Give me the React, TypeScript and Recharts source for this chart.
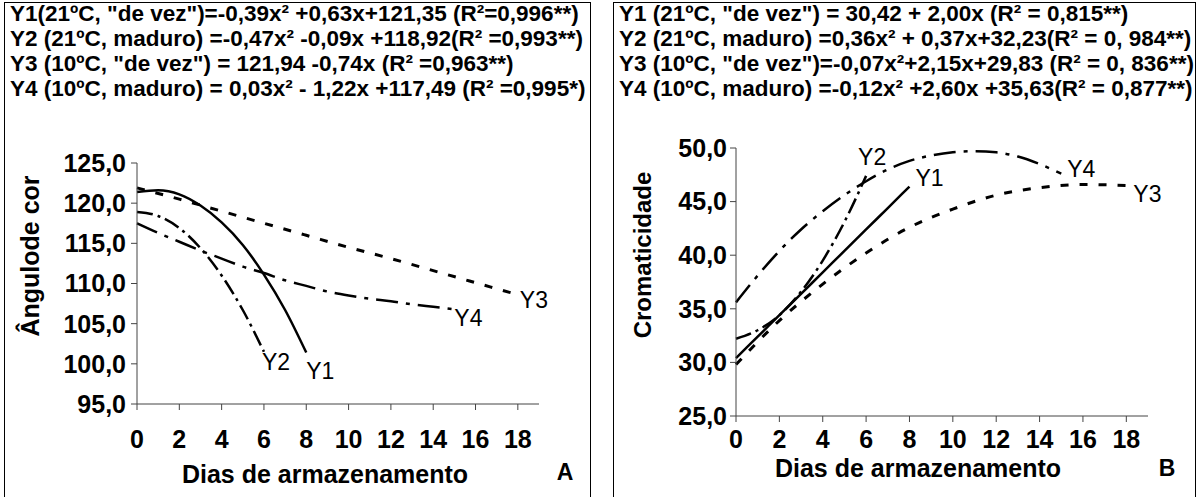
import { Line, LineChart, XAxis, YAxis } from "recharts";

const FONT = 'Arial, "Liberation Sans", Helvetica, sans-serif';

// x values (dias de armazenamento)
const daysTo6 = [0, 1, 2, 3, 4, 5, 6];
const daysTo8 = [0, 1, 2, 3, 4, 5, 6, 7, 8];
const daysTo15 = [0, 1, 2, 3, 4, 5, 6, 7, 8, 9, 10, 11, 12, 13, 14, 15];
const daysTo18 = [0, 2, 4, 6, 8, 10, 12, 14, 16, 18];
const dayTicks = [0, 2, 4, 6, 8, 10, 12, 14, 16, 18];

// A: ângulo de cor
const hueY1 = [121.4, 121.6, 121.1, 119.7, 117.6, 114.8, 111.1, 106.7, 101.4];
const hueY2 = [118.9, 118.4, 116.9, 114.4, 111.0, 106.7, 101.5];
const hueY3 = [121.9, 120.5, 119.0, 117.5, 116.0, 114.5, 113.1, 111.6, 110.1, 108.6];
const hueY4 = [117.5, 116.3, 115.2, 114.1, 113.1, 112.1, 111.3, 110.4, 109.7, 109.0, 108.5, 108.1, 107.8, 107.4, 107.1, 106.8];
const hueTicks = [95, 100, 105, 110, 115, 120, 125];

// B: cromaticidade
const chromaY1 = [30.4, 32.4, 34.4, 36.4, 38.4, 40.4, 42.4, 44.4, 46.4];
const chromaY2 = [32.2, 33.0, 34.4, 36.6, 39.5, 43.1, 47.4];
const chromaY3 = [29.8, 33.9, 37.3, 40.2, 42.6, 44.3, 45.6, 46.3, 46.6, 46.5];
const chromaY4 = [35.6, 38.1, 40.4, 42.4, 44.1, 45.6, 46.9, 48.0, 48.8, 49.3, 49.6, 49.7, 49.6, 49.2, 48.5, 47.6];
const chromaTicks = [25, 30, 35, 40, 45, 50];

const hueEquations = [
  'Y1(21ºC, "de vez")=-0,39x² +0,63x+121,35 (R²=0,996**)',
  "Y2 (21ºC, maduro) =-0,47x² -0,09x +118,92(R² =0,993**)",
  'Y3 (10ºC, "de vez") = 121,94 -0,74x (R² =0,963**)',
  "Y4 (10ºC, maduro) = 0,03x² - 1,22x +117,49 (R² =0,995*)",
];
const chromaEquations = [
  'Y1 (21ºC, "de vez") = 30,42 + 2,00x (R² = 0,815**)',
  "Y2 (21ºC, maduro) =0,36x² + 0,37x+32,23(R² = 0, 984**)",
  'Y3 (10ºC, "de vez")=-0,07x²+2,15x+29,83 (R² = 0, 836**)',
  "Y4 (10ºC, maduro) =-0,12x² +2,60x +35,63(R² = 0,877**)",
];

const toPoints = (xs: number[], ys: number[]) => xs.map((x, i) => ({ x, y: ys[i] }));
const fmt = (v: number) => v.toFixed(1).replace(".", ",");

const styles: Record<string, { dash?: string; width: number }> = {
  Y1: { width: 2.5 },
  Y2: { dash: "16 5 3 5", width: 2.5 },
  Y3: { dash: "8 11", width: 3 },
  Y4: { dash: "22 8 4 8", width: 2.5 },
};

type Series = { name: string; xs: number[]; ys: number[]; dx: number; dy: number };

const endLabel = (name: string, count: number, dx: number, dy: number) => (p: any) =>
  p.index === count - 1 ? (
    <text
      key={name}
      x={p.x + dx}
      y={p.y + dy}
      fontSize={23}
      fontFamily={FONT}
      fill="#000"
      dominantBaseline="central"
    >
      {name}
    </text>
  ) : (
    <g key={p.index} />
  );

type PanelProps = {
  left: number;
  width: number;
  boxLeft: number;
  boxWidth: number;
  equations: string[];
  series: Series[];
  yDomain: [number, number];
  yTicks: number[];
  margin: { top: number; right: number; bottom: number; left: number };
  xTickMargin: number;
  yTickMargin: number;
  yTitle: string;
  yTitleSize: number;
  yTitlePos: [number, number];
  xTitlePos: [number, number];
  letter: string;
  letterPos: [number, number];
};

const tickStyle = { fill: "#000", fontSize: 25, fontWeight: "bold", fontFamily: FONT };

function Panel(p: PanelProps) {
  return (
    <>
      <div
        style={{
          position: "absolute",
          left: p.boxLeft,
          top: 2,
          width: p.boxWidth,
          height: 510,
          border: "1.5px solid #000",
          boxSizing: "border-box",
        }}
      />
      <div
        style={{
          position: "absolute",
          left: p.boxLeft + 6,
          top: 1,
          fontFamily: FONT,
          fontWeight: "bold",
          fontSize: 22.5,
          lineHeight: "25px",
          whiteSpace: "nowrap",
          color: "#000",
        }}
      >
        {p.equations.map((e) => (
          <div key={e}>{e}</div>
        ))}
      </div>
      <div style={{ position: "absolute", left: p.left, top: 0 }}>
        <LineChart width={p.width} height={497} margin={p.margin}>
          <XAxis
            type="number"
            dataKey="x"
            domain={[0, 19]}
            ticks={dayTicks}
            height={60}
            stroke="#444"
            tickSize={6}
            tickMargin={p.xTickMargin}
            tick={tickStyle}
          />
          <YAxis
            type="number"
            domain={p.yDomain}
            ticks={p.yTicks}
            width={120}
            stroke="#444"
            tickSize={6}
            tickMargin={p.yTickMargin}
            tickFormatter={fmt}
            tick={tickStyle}
          />
          {p.series.map((s) => (
            <Line
              key={s.name}
              data={toPoints(s.xs, s.ys)}
              dataKey="y"
              type="monotone"
              stroke="#000"
              strokeWidth={styles[s.name].width}
              strokeDasharray={styles[s.name].dash}
              dot={false}
              activeDot={false}
              isAnimationActive={false}
              label={endLabel(s.name, s.xs.length, s.dx, s.dy)}
            />
          ))}
        </LineChart>
      </div>
      <div
        style={{
          position: "absolute",
          left: p.yTitlePos[0],
          top: p.yTitlePos[1],
          transform: "translate(-50%, -50%) rotate(-90deg)",
          fontFamily: FONT,
          fontWeight: "bold",
          fontSize: p.yTitleSize,
          whiteSpace: "nowrap",
        }}
      >
        {p.yTitle}
      </div>
      <div
        style={{
          position: "absolute",
          left: p.xTitlePos[0],
          top: p.xTitlePos[1],
          transform: "translate(-50%, -50%)",
          fontFamily: FONT,
          fontWeight: "bold",
          fontSize: 25,
          whiteSpace: "nowrap",
        }}
      >
        Dias de armazenamento
      </div>
      <div
        style={{
          position: "absolute",
          left: p.letterPos[0],
          top: p.letterPos[1],
          transform: "translate(-50%, -50%)",
          fontFamily: FONT,
          fontWeight: "bold",
          fontSize: 23,
        }}
      >
        {p.letter}
      </div>
    </>
  );
}

export default function App() {
  return (
    <div
      style={{
        position: "absolute",
        left: 0,
        top: 0,
        width: 1198,
        height: 497,
        background: "#fff",
        overflow: "hidden",
      }}
    >
      <Panel
        left={0}
        width={590}
        boxLeft={4}
        boxWidth={587}
        equations={hueEquations}
        series={[
          { name: "Y1", xs: daysTo8, ys: hueY1, dx: 0, dy: 18 },
          { name: "Y2", xs: daysTo6, ys: hueY2, dx: -2, dy: 10 },
          { name: "Y3", xs: daysTo18, ys: hueY3, dx: 2, dy: 5 },
          { name: "Y4", xs: daysTo15, ys: hueY4, dx: 0, dy: 9 },
        ]}
        yDomain={[95, 125]}
        yTicks={hueTicks}
        margin={{ top: 163, right: 51, bottom: 33, left: 17 }}
        xTickMargin={20}
        yTickMargin={5}
        yTitle="Ângulode cor"
        yTitleSize={25}
        yTitlePos={[30, 256]}
        xTitlePos={[325, 474]}
        letter="A"
        letterPos={[565, 472]}
      />
      <Panel
        left={600}
        width={598}
        boxLeft={613}
        boxWidth={583}
        equations={chromaEquations}
        series={[
          { name: "Y1", xs: daysTo8, ys: chromaY1, dx: 6, dy: -9 },
          { name: "Y2", xs: daysTo6, ys: chromaY2, dx: -8, dy: -19 },
          { name: "Y3", xs: daysTo18, ys: chromaY3, dx: 7, dy: 8 },
          { name: "Y4", xs: daysTo15, ys: chromaY4, dx: 6, dy: -5 },
        ]}
        yDomain={[25, 50]}
        yTicks={chromaTicks}
        margin={{ top: 148, right: 50, bottom: 21, left: 16 }}
        xTickMargin={8}
        yTickMargin={3}
        yTitle="Cromaticidade"
        yTitleSize={24}
        yTitlePos={[643, 255]}
        xTitlePos={[918, 468]}
        letter="B"
        letterPos={[1167, 468]}
      />
    </div>
  );
}
